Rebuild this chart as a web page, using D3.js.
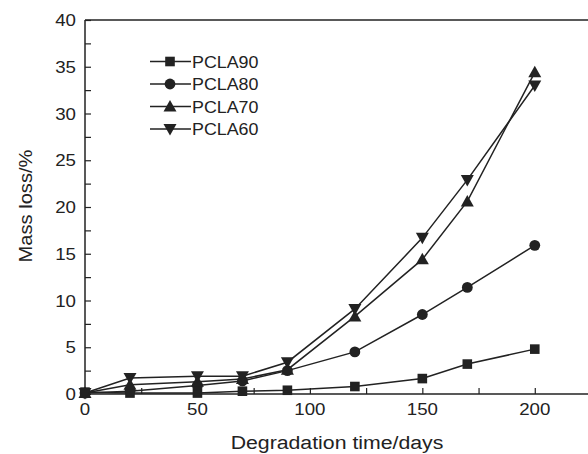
<!DOCTYPE html>
<meta charset="utf-8">
<style>
  body { margin: 0; background: #fff; }
  text { font-family: "Liberation Sans", Arial, sans-serif; fill: #222; }
</style>
<body>
<script src="https://d3js.org/d3.v7.min.js"></script>
<script>

// degradation time (days)
var days = [0, 20, 50, 70, 90, 120, 150, 170, 200];

// mass loss (%) per sample
var pcla90 = [0.2, 0.1, 0.1, 0.3, 0.4, 0.8, 1.65, 3.2, 4.8];
var pcla80 = [0.1, 0.3, 0.9, 1.4, 2.5, 4.5, 8.5, 11.4, 15.9];
var pcla70 = [0.1, 1.0, 1.3, 1.6, 2.6, 8.3, 14.4, 20.6, 34.4];
var pcla60 = [0.1, 1.7, 1.9, 1.9, 3.4, 9.1, 16.7, 22.9, 33.0];

var names = ["PCLA90", "PCLA80", "PCLA70", "PCLA60"];
var symbols = ["square", "circle", "up", "down"];
var series = [pcla90, pcla80, pcla70, pcla60];

var xTicks = [0, 50, 100, 150, 200];
var yTicks = [0, 5, 10, 15, 20, 25, 30, 35, 40];

var W = 588, H = 454;
var ink = "#222";

var svg = d3.select("body").append("svg")
    .attr("width", W)
    .attr("height", H);

var x = d3.scaleLinear().domain([0, 225]).range([85, 591]);
var y = d3.scaleLinear().domain([0, 40]).range([394, 20]);

// the source font is a little wider than Arial
function stretched(sel, px, py, sx, rot) {
  return sel.append("text")
      .attr("transform", "translate(" + px + "," + py + ")" + (rot ? " rotate(" + rot + ")" : "") + " scale(" + sx + ",1)");
}

// frame
svg.append("line")
    .attr("x1", x(0)).attr("x2", W)
    .attr("y1", y(40)).attr("y2", y(40))
    .style("stroke", ink).style("stroke-width", 1.5);

// axes, ticks pointing inward
var xAxis = d3.axisTop(x)
    .tickValues(d3.range(0, 226, 25))
    .tickSize(6)
    .tickFormat("");
var gx = svg.append("g")
    .attr("transform", "translate(0," + y(0) + ")")
    .call(xAxis);
gx.select(".domain").remove();
gx.append("line")
    .attr("x1", x(0)).attr("x2", W)
    .style("stroke", ink).style("stroke-width", 1.5);
gx.selectAll(".tick line").style("stroke", ink).style("stroke-width", 1.2);

xTicks.forEach(function(d) {
  stretched(gx, x(d), 21, 1.1)
      .attr("text-anchor", "middle")
      .style("font-size", "17px")
      .text(d);
});

var yAxis = d3.axisRight(y)
    .tickValues(d3.range(0, 40.1, 2.5))
    .tickSize(6)
    .tickFormat("");
var gy = svg.append("g")
    .attr("transform", "translate(" + x(0) + ",0)")
    .call(yAxis);
gy.select(".domain").remove();
gy.append("line")
    .attr("y1", y(0)).attr("y2", y(40))
    .style("stroke", ink).style("stroke-width", 1.5);
gy.selectAll(".tick line").style("stroke", ink).style("stroke-width", 1.2);

yTicks.forEach(function(d) {
  stretched(gy, -9, y(d), 1.1)
      .attr("dy", "0.36em")
      .attr("text-anchor", "end")
      .style("font-size", "17px")
      .text(d);
});

// axis titles
stretched(svg, 337, 449, 1.12)
    .attr("text-anchor", "middle")
    .style("font-size", "19px")
    .text("Degradation time/days");

stretched(svg, 32, 206, 1.06, -90)
    .attr("text-anchor", "middle")
    .style("font-size", "19px")
    .text("Mass loss/%");

// marker drawing
function marker(g, kind) {
  if (kind === "square") {
    g.append("rect").attr("x", -4.8).attr("y", -4.8).attr("width", 9.6).attr("height", 9.6);
  } else if (kind === "circle") {
    g.append("circle").attr("r", 5.4);
  } else if (kind === "up") {
    g.append("path").attr("d", "M0,-6.5L6.5,5L-6.5,5Z");
  } else {
    g.append("path").attr("d", "M0,6.5L6.5,-5L-6.5,-5Z");
  }
  g.selectAll("*").style("fill", ink).style("stroke", "none");
}

var line = d3.line()
    .x(function(d, i) { return x(days[i]); })
    .y(function(d) { return y(d); });

series.forEach(function(vals, k) {
  svg.append("path")
      .attr("d", line(vals))
      .style("fill", "none")
      .style("stroke", ink)
      .style("stroke-width", 1.5);
});

series.forEach(function(vals, k) {
  svg.selectAll(".m" + k)
      .data(vals)
    .enter().append("g")
      .attr("transform", function(d, i) { return "translate(" + x(days[i]) + "," + y(d) + ")"; })
      .each(function() { marker(d3.select(this), symbols[k]); });
});

// legend
var leg = svg.append("g");
names.forEach(function(n, k) {
  var ly = 61.5 + k * 22.5;
  leg.append("line")
      .attr("x1", 150).attr("x2", 191)
      .attr("y1", ly).attr("y2", ly)
      .style("stroke", ink).style("stroke-width", 1.5);
  marker(leg.append("g").attr("transform", "translate(170," + ly + ")"), symbols[k]);
  stretched(leg, 192, ly, 1.05)
      .attr("dy", "0.36em")
      .style("font-size", "17px")
      .text(n);
});

</script>
